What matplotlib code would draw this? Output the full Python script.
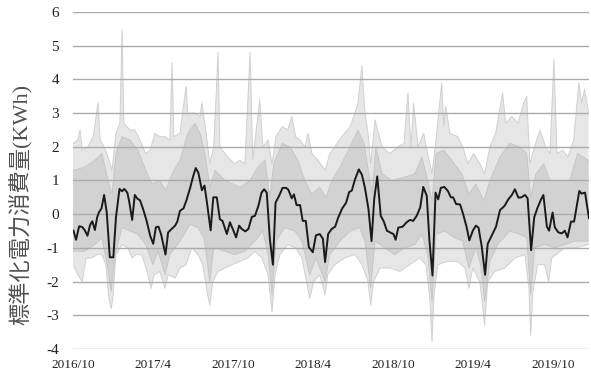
import numpy as np
import matplotlib
matplotlib.use("Agg")
import matplotlib.pyplot as plt

plt.rcParams['font.family'] = ['Liberation Serif', 'Noto Sans CJK JP']
plt.rcParams['axes.unicode_minus'] = False

start = np.datetime64('2016-10-01')

# mean line (days since 2016-10-01, standardized value)
mean_days = [1, 7, 14, 21, 27, 33, 39, 44, 50, 55, 59, 65, 71, 77, 84, 92, 98, 106, 112, 117,
             124, 128, 135, 141, 147, 153, 160, 168, 176, 183, 189, 195, 201, 211, 217, 225, 233, 238, 244, 252,
             259, 267, 274, 280, 286, 294, 300, 305, 314, 320, 328, 335, 341, 351, 358, 366, 372, 379, 385, 393,
             400, 408, 415, 423, 430, 436, 442, 449, 456, 462, 470, 478, 486, 491, 499, 504, 510, 518, 524, 531,
             538, 547, 554, 563, 570, 575, 582, 590, 598, 605, 614, 623, 630, 636, 643, 652, 659, 666, 674, 681,
             687, 694, 702, 709, 716, 723, 731, 736, 742, 752, 761, 769, 776, 784, 792, 799, 807, 813, 820, 827,
             833, 839, 847, 855, 862, 867, 874, 883, 890, 898, 904, 912, 919, 925, 932, 940, 946, 955, 965, 974,
             984, 993, 1001, 1008, 1016, 1023, 1031, 1037, 1045, 1052, 1059, 1067, 1073, 1081, 1086, 1094, 1099, 1107, 1115, 1122,
             1128, 1136, 1143, 1155, 1160, 1168, 1177]
mean_vals = [-0.49, -0.76, -0.36, -0.38, -0.48, -0.64, -0.32, -0.21, -0.47, -0.10, 0.05, 0.17, 0.57, 0.05, -1.28, -1.28, -0.10, 0.75, 0.68, 0.75,
             0.64, 0.39, -0.17, 0.57, 0.46, 0.41, 0.15, -0.20, -0.64, -0.88, -0.39, -0.37, -0.60, -1.20, -0.54, -0.44, -0.34, -0.22, 0.10, 0.17,
             0.42, 0.77, 1.12, 1.37, 1.23, 0.71, 0.85, 0.40, -0.48, 0.50, 0.50, -0.15, -0.20, -0.59, -0.24, -0.49, -0.69, -0.34, -0.44, -0.51,
             -0.44, -0.08, -0.05, 0.25, 0.64, 0.74, 0.64, -0.73, -1.50, 0.34, 0.54, 0.78, 0.78, 0.73, 0.47, 0.59, 0.27, 0.27, -0.20, -0.20,
             -0.98, -1.13, -0.63, -0.59, -0.73, -1.42, -0.59, -0.44, -0.37, -0.10, 0.17, 0.34, 0.66, 0.70, 1.02, 1.33, 1.17, 0.78, 0.15, -0.80,
             0.44, 1.12, -0.05, -0.22, -0.49, -0.54, -0.59, -0.76, -0.40, -0.37, -0.24, -0.17, -0.20, -0.05, 0.20, 0.81, 0.54, -0.78, -1.82, 0.64,
             0.44, 0.78, 0.81, 0.69, 0.50, 0.50, 0.30, 0.29, 0.00, -0.39, -0.78, -0.49, -0.34, -0.40, -0.93, -1.80, -0.88, -0.64, -0.37, 0.12,
             0.24, 0.44, 0.57, 0.74, 0.49, 0.50, 0.57, 0.47, -1.07, -0.10, 0.17, 0.42, 0.57, -0.37, -0.49, 0.05, -0.39, -0.54, -0.57, -0.49,
             -0.69, -0.22, -0.22, 0.69, 0.61, 0.64, -0.12]

# individual households: outer envelope (with spikes)
hi_days = [0, 11, 16, 21, 34, 46, 57, 62, 71, 80, 89, 98, 107, 112, 116, 130, 141, 153, 166, 176,
           187, 198, 210, 221, 226, 230, 244, 258, 262, 278, 290, 294, 303, 312, 321, 331, 335, 353, 369, 381,
           392, 404, 410, 426, 433, 445, 454, 463, 477, 490, 499, 508, 518, 529, 536, 545, 559, 575, 586, 597,
           613, 632, 643, 650, 659, 666, 673, 679, 689, 695, 705, 723, 741, 755, 764, 771, 777, 787, 800, 809,
           819, 828, 841, 846, 850, 860, 878, 889, 901, 914, 928, 939, 951, 964, 980, 987, 1001, 1015, 1028, 1035,
           1042, 1053, 1065, 1078, 1088, 1097, 1104, 1117, 1129, 1142, 1154, 1160, 1167, 1176]
hi_vals = [2.1, 2.2, 2.5, 1.9, 2.0, 2.3, 3.3, 2.2, 2.0, 1.7, 1.3, 2.4, 2.7, 5.5, 2.7, 2.5, 2.5, 2.2, 1.8, 1.9,
           2.4, 2.3, 2.3, 2.2, 4.5, 2.3, 2.4, 3.8, 3.0, 3.0, 2.9, 3.3, 2.5, 1.5, 2.0, 4.8, 2.0, 1.7, 1.5, 1.6,
           1.5, 4.8, 1.6, 3.4, 2.0, 2.2, 1.5, 2.3, 2.6, 2.5, 2.9, 2.3, 2.2, 2.0, 2.4, 1.8, 1.6, 1.3, 1.8, 2.0,
           2.3, 2.6, 3.0, 3.3, 4.4, 3.0, 2.4, 1.5, 2.8, 2.5, 2.0, 1.8, 2.0, 2.1, 3.6, 2.0, 3.3, 2.0, 2.4, 1.8,
           1.2, 2.2, 3.9, 2.6, 3.2, 2.4, 2.3, 2.0, 1.5, 1.8, 1.5, 1.2, 2.0, 2.4, 3.6, 2.7, 2.9, 2.7, 3.3, 3.5,
           1.5, 2.0, 2.5, 2.0, 1.8, 4.6, 1.8, 1.9, 1.7, 2.2, 3.9, 3.3, 3.7, 3.0]
lo_days = [0, 11, 21, 30, 43, 55, 66, 75, 82, 87, 91, 98, 112, 125, 135, 144, 157, 171, 178, 185,
           198, 210, 217, 233, 244, 258, 271, 285, 296, 306, 312, 319, 331, 347, 363, 381, 399, 415, 431, 445,
           454, 461, 472, 490, 508, 522, 531, 540, 549, 563, 575, 581, 597, 620, 643, 659, 673, 679, 686, 700,
           723, 746, 768, 791, 805, 814, 819, 823, 832, 855, 878, 894, 903, 912, 928, 939, 946, 962, 985, 1008,
           1031, 1040, 1044, 1049, 1060, 1076, 1085, 1092, 1122, 1145, 1176]
lo_vals = [-1.5, -1.8, -2.0, -1.3, -1.3, -1.2, -1.2, -1.5, -2.5, -2.8, -2.5, -1.2, -0.9, -1.0, -1.3, -1.2, -1.2, -1.8, -2.2, -1.8,
           -1.7, -2.2, -1.8, -1.9, -1.6, -1.5, -1.0, -1.2, -1.5, -2.3, -2.7, -2.0, -1.7, -1.6, -1.5, -1.4, -1.3, -1.1, -1.3, -1.8,
           -2.9, -1.8, -1.2, -0.9, -1.0, -1.3, -1.9, -2.5, -2.0, -1.8, -2.4, -1.8, -1.5, -1.3, -1.2, -1.5, -2.0, -2.7, -2.0, -1.6,
           -1.6, -1.7, -1.5, -1.3, -1.5, -2.5, -3.8, -2.5, -1.5, -1.4, -1.4, -1.6, -2.2, -1.6, -2.0, -3.3, -2.0, -1.7, -1.6, -1.3,
           -1.2, -2.2, -3.6, -2.3, -1.5, -1.5, -2.0, -1.3, -1.0, -1.0, -0.9]

# dense core of the household lines
core_hi_days = [0, 27, 50, 66, 80, 89, 98, 112, 130, 148, 166, 180, 198, 212, 226, 244, 262, 278, 290, 301,
                312, 324, 347, 381, 404, 422, 438, 449, 458, 477, 495, 513, 529, 545, 563, 577, 591, 609, 632, 650,
                664, 675, 682, 691, 705, 727, 757, 780, 796, 809, 819, 828, 846, 864, 887, 903, 919, 937, 951, 974,
                996, 1019, 1035, 1044, 1056, 1074, 1088, 1110, 1133, 1151, 1176]
core_hi_vals = [1.3, 1.4, 1.6, 1.8, 1.0, 0.6, 1.8, 2.3, 2.2, 1.9, 1.3, 0.9, 1.0, 0.7, 1.2, 1.6, 2.4, 2.7, 2.4, 1.8,
                0.8, 1.3, 1.0, 0.8, 1.0, 1.4, 1.6, 0.5, 1.5, 2.1, 2.0, 1.6, 1.0, 0.6, 0.8, 0.5, 1.0, 1.4, 2.0, 2.5,
                2.1, 1.2, 0.6, 2.0, 1.2, 1.0, 1.1, 1.2, 1.7, 1.0, 0.4, 1.8, 1.9, 1.6, 1.2, 0.6, 0.9, 0.4, 1.0, 1.7,
                2.1, 2.0, 1.8, 0.5, 1.2, 1.5, 1.0, 1.0, 1.0, 1.8, 1.6]
core_lo_days = [0, 27, 50, 66, 78, 87, 96, 112, 130, 148, 166, 182, 194, 210, 221, 244, 267, 285, 299, 312,
                321, 347, 369, 392, 415, 433, 445, 454, 463, 483, 506, 522, 540, 554, 575, 586, 609, 632, 654, 666,
                679, 689, 711, 734, 757, 780, 796, 809, 819, 828, 848, 871, 889, 903, 919, 930, 939, 951, 969, 996,
                1019, 1035, 1044, 1053, 1076, 1099, 1122, 1145, 1176]
core_lo_vals = [-1.1, -1.1, -0.9, -0.7, -1.5, -2.3, -1.2, -0.4, -0.5, -0.6, -0.9, -1.5, -1.1, -1.8, -1.2, -0.8, -0.3, -0.4, -0.7, -2.0,
                -1.0, -1.1, -1.2, -1.1, -0.8, -0.5, -1.2, -2.4, -0.8, -0.4, -0.5, -0.8, -1.8, -1.3, -2.0, -1.2, -0.8, -0.5, -0.4, -0.8,
                -2.2, -0.8, -1.0, -1.2, -1.0, -0.9, -0.6, -1.2, -2.6, -0.6, -0.5, -0.7, -0.8, -1.6, -1.0, -1.5, -2.6, -1.4, -0.9, -0.5,
                -0.6, -0.7, -2.4, -1.0, -0.9, -1.0, -0.9, -0.8, -0.8]

tick_dates = ['2016-10-01', '2017-04-01', '2017-10-01', '2018-04-01', '2018-10-01', '2019-04-01', '2019-10-01']
tick_labels = ['2016/10', '2017/4', '2017/10', '2018/4', '2018/10', '2019/4', '2019/10']


def to_dates(days):
    return start + np.array(days).astype('timedelta64[D]')


fig, ax = plt.subplots(figsize=(5.91, 3.78), dpi=100)
fig.subplots_adjust(left=0.1235, right=0.9966, top=0.968, bottom=0.077)

# gray band of households
hx, lx = to_dates(hi_days), to_dates(lo_days)
ax.fill(np.concatenate([hx, lx[::-1]]), np.concatenate([hi_vals, lo_vals[::-1]]),
        color='#e6e6e6', lw=0, zorder=1)
chx, clx = to_dates(core_hi_days), to_dates(core_lo_days)
ax.fill(np.concatenate([chx, clx[::-1]]), np.concatenate([core_hi_vals, core_lo_vals[::-1]]),
        color='#d2d2d2', lw=0, zorder=2)
ax.plot(hx, hi_vals, color='#d0d0d0', lw=0.7, zorder=2)
ax.plot(lx, lo_vals, color='#d0d0d0', lw=0.7, zorder=2)
ax.plot(chx, core_hi_vals, color='#c4c4c4', lw=0.6, zorder=2)
ax.plot(clx, core_lo_vals, color='#c4c4c4', lw=0.6, zorder=2)

# grid
for yv in range(-4, 7):
    ax.axhline(yv, color='#ababab', lw=1.0, zorder=3)

# average
ax.plot(to_dates(mean_days), mean_vals, color='#1a1a1a', lw=1.4, zorder=4)

ax.set_ylim(-4, 6)
ax.set_xlim(start, start + np.timedelta64(1177, 'D'))
ax.set_yticks(range(-4, 7))
ax.set_xticks(np.array(tick_dates, dtype='datetime64[D]'))
ax.set_xticklabels(tick_labels)
ax.tick_params(axis='both', length=0, colors='#222222')
ax.tick_params(axis='y', pad=10, labelsize=11)
ax.tick_params(axis='x', pad=7, labelsize=9.5)
for s in ax.spines.values():
    s.set_visible(False)

ax.set_ylabel('標準化電力消費量(KWh)', fontsize=16, color='#505050')
ax.yaxis.set_label_coords(-0.078, 0.43)

fig.savefig('out.png', dpi=100)
